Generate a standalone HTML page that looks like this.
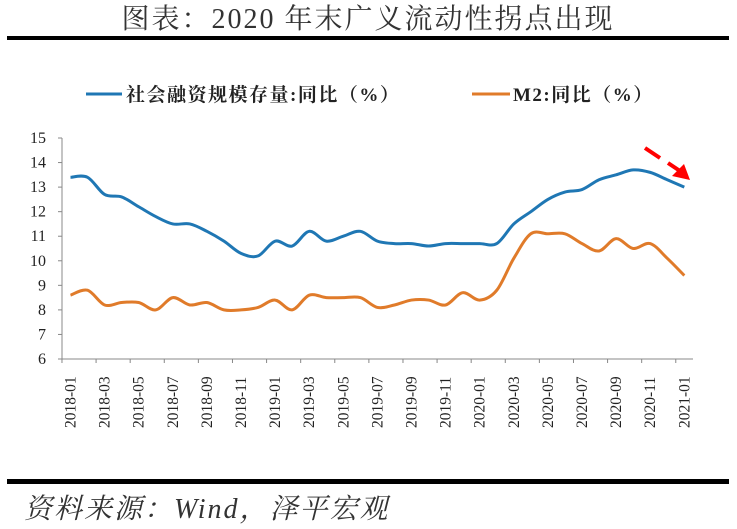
<!DOCTYPE html>
<html><head><meta charset="utf-8"><style>
body{margin:0;background:#fff;width:737px;height:529px;overflow:hidden;}
svg{display:block}
</style></head><body>
<svg width="737" height="529" font-family="'Liberation Serif','Noto Serif CJK SC',serif">
<text x="368" y="28" text-anchor="middle" font-size="28" letter-spacing="2" fill="#333">图表：2020 年末广义流动性拐点出现</text>
<rect x="7" y="36" width="722" height="4" fill="#000"/>
<g font-weight="bold" font-size="19" fill="#222">
<line x1="86" y1="94" x2="122" y2="94" stroke="#1f77b4" stroke-width="3"/>
<text x="126" y="101" letter-spacing="1.5">社会融资规模存量:同比（%）</text>
<line x1="472" y1="94" x2="510" y2="94" stroke="#e07b2a" stroke-width="3"/>
<text x="513" y="101" letter-spacing="1.5">M2:同比（%）</text>
</g>
<g id="axes"></g>
<g id="series"></g>
<g>
<line x1="645" y1="148" x2="660" y2="158" stroke="#f00" stroke-width="4"/>
<line x1="668" y1="163" x2="680" y2="171" stroke="#f00" stroke-width="4"/>
<polygon points="672,176 690,180 684,164" fill="#f00"/>
</g>
<rect x="7" y="479" width="722" height="5" fill="#000"/>
<text x="24" y="518" font-size="28" letter-spacing="2" font-style="italic" fill="#333">资料来源：Wind，泽平宏观</text>
</svg>
<script>
const months=[];for(let y=2018;y<=2021;y++)for(let m=1;m<=12;m++){if(y===2021&&m>1)break;months.push(y+'-'+String(m).padStart(2,'0'));}
const tsf=[13.4,13.4,12.7,12.6,12.2,11.8,11.5,11.5,11.2,10.8,10.3,10.2,10.8,10.6,11.2,10.8,11.0,11.2,10.8,10.7,10.7,10.6,10.7,10.7,10.7,10.7,11.5,12.0,12.5,12.8,12.9,13.3,13.5,13.7,13.6,13.3,13.0];
const m2=[8.6,8.8,8.2,8.3,8.3,8.0,8.5,8.2,8.3,8.0,8.0,8.1,8.4,8.0,8.6,8.5,8.5,8.5,8.1,8.2,8.4,8.4,8.2,8.7,8.4,8.8,10.1,11.1,11.1,11.1,10.7,10.4,10.9,10.5,10.7,10.1,9.4];
const yTicks=[6,7,8,9,10,11,12,13,14,15];
const NS='http://www.w3.org/2000/svg';
const x0=70.5,dx=17.05,yTop=138,yBot=359;
const X=i=>x0+i*dx;
const Y=v=>yBot-(v-6)/9*(yBot-yTop);
const ax=document.getElementById('axes'),sr=document.getElementById('series');
function mk(t,a,p){const e=document.createElementNS(NS,t);for(const k in a)e.setAttribute(k,a[k]);p.appendChild(e);return e;}
const yAxis=mk('line',{x1:62,y1:yTop,x2:62,y2:yBot,stroke:'#888'},ax);


const xAxis=mk('line',{x1:62,y1:yBot,x2:693,y2:yBot,stroke:'#888'},ax);


yTicks.forEach(v=>{
 mk('line',{x1:58,y1:Y(v),x2:62,y2:Y(v),stroke:'#888'},ax);
 const t=mk('text',{x:46,y:Y(v)+5,'text-anchor':'end','font-size':16,fill:'#222'},ax);t.textContent=v;
 
 
});
months.forEach((m,i)=>{
 if(i%2===0){
  mk('line',{x1:X(i)-dx/2,y1:yBot,x2:X(i)-dx/2,y2:yBot+4,stroke:'#888'},ax);
  const t=mk('text',{transform:`translate(${X(i)+5},${yBot+69}) rotate(-90)`,'font-size':15.5,fill:'#222'},ax);t.textContent=m;
  
  
 }
});
function path(d){const p=d.map((v,i)=>[X(i),Y(v)]);let s=`M${p[0][0]},${p[0][1]}`;
 for(let i=0;i<p.length-1;i++){const a=p[Math.max(0,i-1)],b=p[i],c=p[i+1],e=p[Math.min(p.length-1,i+2)];
 s+=` C${b[0]+(c[0]-a[0])/6},${b[1]+(c[1]-a[1])/6} ${c[0]-(e[0]-b[0])/6},${c[1]-(e[1]-b[1])/6} ${c[0]},${c[1]}`;}return s;}
const l1=mk('path',{d:path(tsf),fill:'none',stroke:'#1f77b4','stroke-width':3},sr);


const l2=mk('path',{d:path(m2),fill:'none',stroke:'#e07b2a','stroke-width':3},sr);


</script>
</body></html>
